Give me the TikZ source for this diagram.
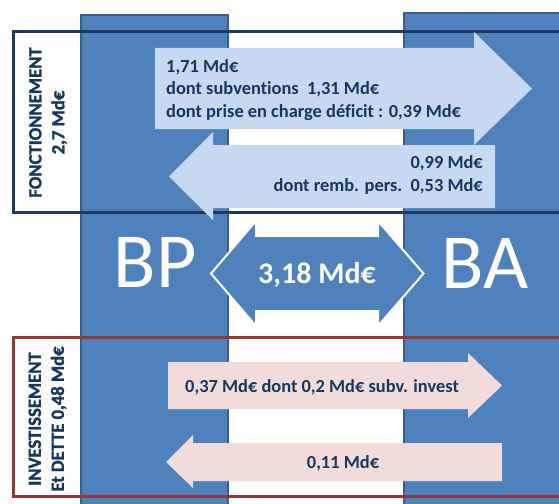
\documentclass[tikz,border=0pt]{standalone}
\usepackage{fontspec}
\setmainfont{Carlito}[Ligatures={NoCommon}]
\newfontfamily\heavyfont{Carlito}[Ligatures={NoCommon},UprightFont=*-Bold,FakeBold=1.5]
\definecolor{colblue}{HTML}{4F81BD}
\definecolor{coledge}{HTML}{3A5E8C}
\definecolor{navy}{HTML}{1C3A63}
\definecolor{txtnavy}{HTML}{17375E}
\definecolor{darkred}{HTML}{953735}
\definecolor{lightblue}{HTML}{C6D9F0}
\definecolor{lightpink}{HTML}{F2DCDB}
\begin{document}
\begin{tikzpicture}[x=1pt,y=-1pt,
  col/.style={fill=colblue,draw=coledge,line width=2pt},
  fonbox/.style={draw=navy,line width=3pt},
  invbox/.style={draw=darkred,line width=3pt},
  bluearrow/.style={fill=lightblue},
  pinkarrow/.style={fill=lightpink},
  midarrow/.style={fill=colblue,draw=white,line width=2pt,line join=miter},
  lbl/.style={inner sep=0pt,text=txtnavy,font=\bfseries\fontsize{18.4}{22}\selectfont},
  side/.style={inner sep=0pt,text=txtnavy,rotate=90,align=center,font=\heavyfont\fontsize{18.6}{23}\selectfont},
  big/.style={inner sep=0pt,text=white,font=\fontsize{78}{80}\selectfont},
  midlbl/.style={inner sep=0pt,text=white,font=\bfseries\fontsize{30}{32}\selectfont}]
\useasboundingbox (0,0) rectangle (559,503);
\clip (0,0) rectangle (559,503);
\fill[white] (0,0) rectangle (559,503);
% columns
\draw[col] (81,15) rectangle (228,520);
\draw[col] (404,13) rectangle (580,520);
% section boxes
\draw[fonbox] (13,32) rectangle (580,212);
\draw[invbox] (13,337) rectangle (580,496);
% fonctionnement arrows
\fill[bluearrow] (155,48) -- (474,48) -- (474,32) -- (532,88.5) -- (474,145) -- (474,129) -- (155,129) -- cycle;
\fill[bluearrow] (495,145) -- (213,145) -- (213,132) -- (169,176.5) -- (213,220) -- (213,208) -- (495,208) -- cycle;
% middle double arrow
\draw[midarrow] (211,273.5) -- (256,221) -- (256,236) -- (378,236) -- (378,221) -- (423.5,273.5) -- (378,326) -- (378,311) -- (256,311) -- (256,326) -- cycle;
% investissement arrows
\fill[pinkarrow] (168,362) -- (468,362) -- (468,353) -- (502,385.5) -- (468,418) -- (468,409) -- (168,409) -- cycle;
\fill[pinkarrow] (502,443) -- (193,443) -- (193,435) -- (166,462) -- (193,488) -- (193,481) -- (502,481) -- cycle;
% texts
\node[lbl,anchor=base west] (t1a) at (166,72) {1,71 Md€};
\node[lbl,anchor=base west] (t1b) at (166,94.5) {dont subventions\hspace{0.45em}1,31 Md€};
\node[lbl,anchor=base west] (t1c) at (166,117) {dont prise en charge déficit : 0,39 Md€};
\node[lbl,anchor=base east] (t2a) at (483,168.5) {0,99 Md€};
\node[lbl,anchor=base east] (t2b) at (483,191) {dont remb. pers.\hspace{0.45em}0,53 Md€};
\node[lbl,anchor=base] (t3) at (322,392.5) {0,37 Md€ dont 0,2 Md€ subv. invest};
\node[lbl,anchor=base] (t4) at (343,468) {0,11 Md€};
\node[big,anchor=base] (bp) at (155,287.5) {BP};
\node[big,anchor=base] (ba) at (485,288) {BA};
\node[midlbl,anchor=base] (mid) at (317,283.5) {3,18 Md€};
\node[side] (fon) at (48,122.5) {FONCTIONNEMENT\\2,7 Md€};
\node[side] (inv) at (47.5,419) {INVESTISSEMENT\\Et DETTE 0,48 Md€};
\end{tikzpicture}
\end{document}
